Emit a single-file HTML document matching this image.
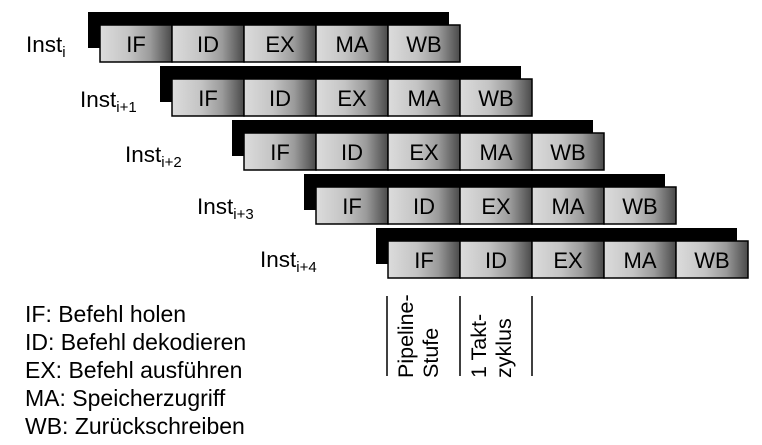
<!DOCTYPE html>
<html><head><meta charset="utf-8"><style>
html,body{margin:0;padding:0;background:#fff;}
svg{display:block;}
text{font-family:"Liberation Sans",sans-serif;fill:#000;}
</style></head><body>
<svg width="762" height="445" viewBox="0 0 762 445" xmlns="http://www.w3.org/2000/svg">
<defs>
<linearGradient id="g" x1="0" y1="0" x2="1" y2="0">
<stop offset="0" stop-color="#dcdcdc"/>
<stop offset="0.4" stop-color="#c4c4c4"/>
<stop offset="0.7" stop-color="#9a9a9a"/>
<stop offset="1" stop-color="#4a4a4a"/>
</linearGradient>
<g id="row">
<rect x="-12" y="-13" width="361" height="14" fill="#000"/>
<rect x="-12" y="-13" width="14" height="36" fill="#000"/>
<rect x="0" y="0" width="72" height="37" fill="url(#g)" stroke="#000" stroke-width="1.5"/>
<rect x="72" y="0" width="72" height="37" fill="url(#g)" stroke="#000" stroke-width="1.5"/>
<rect x="144" y="0" width="72" height="37" fill="url(#g)" stroke="#000" stroke-width="1.5"/>
<rect x="216" y="0" width="72" height="37" fill="url(#g)" stroke="#000" stroke-width="1.5"/>
<rect x="288" y="0" width="72" height="37" fill="url(#g)" stroke="#000" stroke-width="1.5"/>
<g font-size="22" text-anchor="middle">
<text x="36" y="27">IF</text>
<text x="108" y="27">ID</text>
<text x="180" y="27">EX</text>
<text x="252" y="27">MA</text>
<text x="324" y="27">WB</text>
</g>
</g>
</defs>
<use href="#row" x="100" y="25"/>
<use href="#row" x="172" y="79"/>
<use href="#row" x="244" y="133"/>
<use href="#row" x="316" y="187"/>
<use href="#row" x="388" y="241"/>

<g font-size="22.5">
<text x="26" y="52">Inst<tspan font-size="15" dy="5">i</tspan></text>
<text x="80" y="107">Inst<tspan font-size="15" dy="5">i+1</tspan></text>
<text x="125" y="162">Inst<tspan font-size="15" dy="5">i+2</tspan></text>
<text x="197" y="214">Inst<tspan font-size="15" dy="5">i+3</tspan></text>
<text x="260" y="267">Inst<tspan font-size="15" dy="5">i+4</tspan></text>
</g>

<g font-size="23">
<text x="25" y="322">IF: Befehl holen</text>
<text x="25" y="350">ID: Befehl dekodieren</text>
<text x="25" y="378">EX: Befehl ausführen</text>
<text x="25" y="406">MA: Speicherzugriff</text>
<text x="25" y="434">WB: Zurückschreiben</text>
</g>

<g stroke="#000" stroke-width="1.5">
<line x1="387" y1="296" x2="387" y2="376"/>
<line x1="460" y1="296" x2="460" y2="376"/>
<line x1="532" y1="296" x2="532" y2="376"/>
</g>
<g font-size="21.5">
<text transform="translate(413,378) rotate(-90)">Pipeline-</text>
<text transform="translate(438,378) rotate(-90)">Stufe</text>
<text transform="translate(486,378) rotate(-90)">1 Takt-</text>
<text transform="translate(511,378) rotate(-90)">zyklus</text>
</g>
</svg>
</body></html>
